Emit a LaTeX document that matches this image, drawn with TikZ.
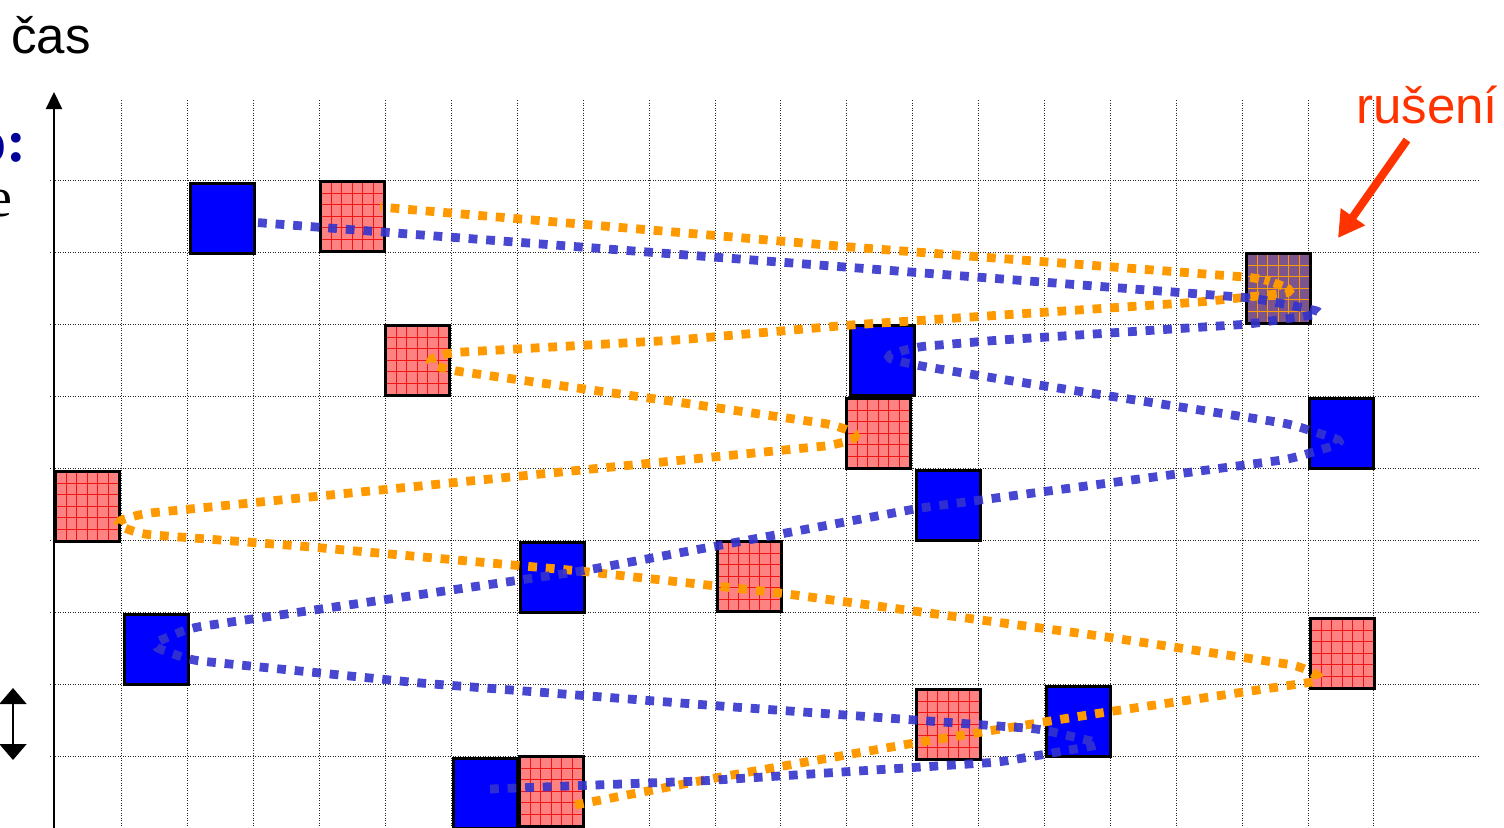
\documentclass[tikz,border=0pt]{standalone}
\usepackage{fontspec}
\setmainfont{Liberation Serif}
\newfontfamily\sansfam{Liberation Sans}
\usetikzlibrary{arrows.meta,calc}
\definecolor{boxblue}{RGB}{0,0,255}
\definecolor{redfill}{RGB}{255,130,130}
\definecolor{gridred}{RGB}{240,20,20}
\definecolor{mixfill}{RGB}{125,85,140}
\definecolor{hoporange}{RGB}{255,153,0}
\definecolor{dotblue}{RGB}{51,51,204}
\definecolor{rusred}{RGB}{255,51,0}
\definecolor{titleblue}{RGB}{0,0,153}
\tikzset{
  cellgrid/.style={path picture={
    \foreach \i in {1,...,5}{
      \draw[#1, line width=0.5pt]
        ($(path picture bounding box.north west)!\i/6!(path picture bounding box.north east)$) --
        ($(path picture bounding box.south west)!\i/6!(path picture bounding box.south east)$);
      \draw[#1, line width=0.5pt]
        ($(path picture bounding box.north west)!\i/6!(path picture bounding box.south west)$) --
        ($(path picture bounding box.north east)!\i/6!(path picture bounding box.south east)$);
    }}},
  cellbox/.style={draw=black, line width=1.5pt, minimum width=31.75pt, minimum height=34.75pt,
    inner sep=0pt, outer sep=0pt, anchor=north west},
  bluebox/.style={cellbox, fill=boxblue},
  redbox/.style={cellbox, fill=redfill, cellgrid=gridred},
  mixbox/.style={cellbox, fill=mixfill, cellgrid=hoporange},
  gridline/.style={draw=black!85, line width=0.5pt, dash pattern=on 0.5pt off 0.75pt},
  bluechain/.style={draw=dotblue, draw opacity=0.9, line width=4.4pt, dash pattern=on 4.4pt off 4.4pt, rounded corners=6pt},
  orangechain/.style={draw=hoporange, line width=4.4pt, dash pattern=on 4.4pt off 4.4pt, rounded corners=6pt},
  bigtext/.style={inner sep=0pt, font=\sansfam\fontsize{25.5}{30}\selectfont},
}
\begin{document}
\begin{tikzpicture}[x=0.5pt,y=-0.5pt]
\useasboundingbox (0,0) rectangle (1504,827);

% grid
\foreach \k in {1,...,20}{
  \draw[gridline] ({56.1+65.89*\k},100) -- ({56.1+65.89*\k},827);
}
\foreach \r in {0,...,8}{
  \draw[gridline] (50,{180+72.1*\r}) -- (1478,{180+72.1*\r});
}

% time axis
\coordinate (axbot) at (54,829);
\coordinate (axtop) at (54,92);
\draw[line width=1.1pt, -{Triangle[length=8.5pt,width=8pt]}] (axbot) -- (axtop);

% boxes
\node[bluebox] (b0) at (190.5,183.5) {};
\node[redbox]  (r0) at (320.5,181.5) {};
\node[mixbox]  (p1) at (1246.5,253.5) {};
\node[redbox]  (r2) at (385.5,325.5) {};
\node[bluebox] (b2) at (850.5,325.5) {};
\node[redbox]  (r3) at (846.5,398.5) {};
\node[bluebox] (b3) at (1309.5,398.5) {};
\node[redbox]  (r4) at (55.5,471.5) {};
\node[bluebox] (b4) at (916.5,470.5) {};
\node[bluebox] (b5) at (520.5,542.5) {};
\node[redbox]  (r5) at (717.5,541.5) {};
\node[bluebox] (b6) at (124.5,614.5) {};
\node[redbox]  (r6) at (1310.5,618.5) {};
\node[redbox]  (r7) at (916.5,689.5) {};
\node[bluebox] (b7) at (1046.5,686.5) {};
\node[bluebox] (b8) at (453.5,758.5) {};
\node[redbox]  (r8) at (519.5,756.5) {};

% orange hopping sequence
\draw[orangechain] ($(r8.center)+(23.75,13.75)$) -- (715,778) -- (920,742) -- (1100,713) -- (1326,680)
  -- (1300,666) -- (1100,636) -- (780,593) -- (580,571) -- (300,546) -- (140,534) -- (112,523)
  -- (140,514) -- (500,478) -- (835,445) -- (862,436)
  -- (835,425) -- (677,402) -- (449,370) -- (424,362)
  -- (445,353) -- (677,340) -- (850,325) -- (1200,302) -- (1296,292)
  -- (1276,283) -- (1258,278) -- (850,247) -- ($(r0.center)+(27.75,-9.25)$);

% blue hopping sequence
\draw[bluechain] ($(b8.center)+(4.75,-4.25)$) -- (700,781) -- (1000,762) -- (1104,744)
  -- (1040,729) -- (720,706) -- (420,683) -- (190,660) -- (149,645)
  -- (190,628) -- (582,571) -- (920,508) -- (1290,459) -- (1346,442)
  -- (1290,424) -- (1000,379) -- (915,365) -- (882,357)
  -- (915,347) -- (1000,340) -- (1250,324) -- (1326,313)
  -- (1300,307) -- (1252,298) -- (700,256) -- ($(b0.center)+(27.75,3.75)$);

% texts
\node[bigtext, anchor=base west] (cas) at (11,53) {čas};
\node[bigtext, text=rusred, anchor=base west] (rus) at (1356,123) {rušení};
\node[inner sep=0pt, anchor=base east, text=titleblue, font=\bfseries\fontsize{30}{34}\selectfont] (frago) at (27,161) {o:};
\node[inner sep=0pt, anchor=base east, font=\fontsize{28}{32}\selectfont] (frage) at (13,216) {e};

% interference arrow
\coordinate (russtart) at (1407,140);
\coordinate (rustip) at (1338,238);
\draw[line width=4pt, rusred, -{Triangle[length=13pt,width=14pt]}] (russtart) -- (rustip);

% slot-length double arrow
\coordinate (slottop) at (13,688);
\coordinate (slotbot) at (13,760);
\draw[line width=1pt, {Triangle[length=8pt,width=13.5pt]}-{Triangle[length=8pt,width=13.5pt]}] (slottop) -- (slotbot);
\end{tikzpicture}
\end{document}
